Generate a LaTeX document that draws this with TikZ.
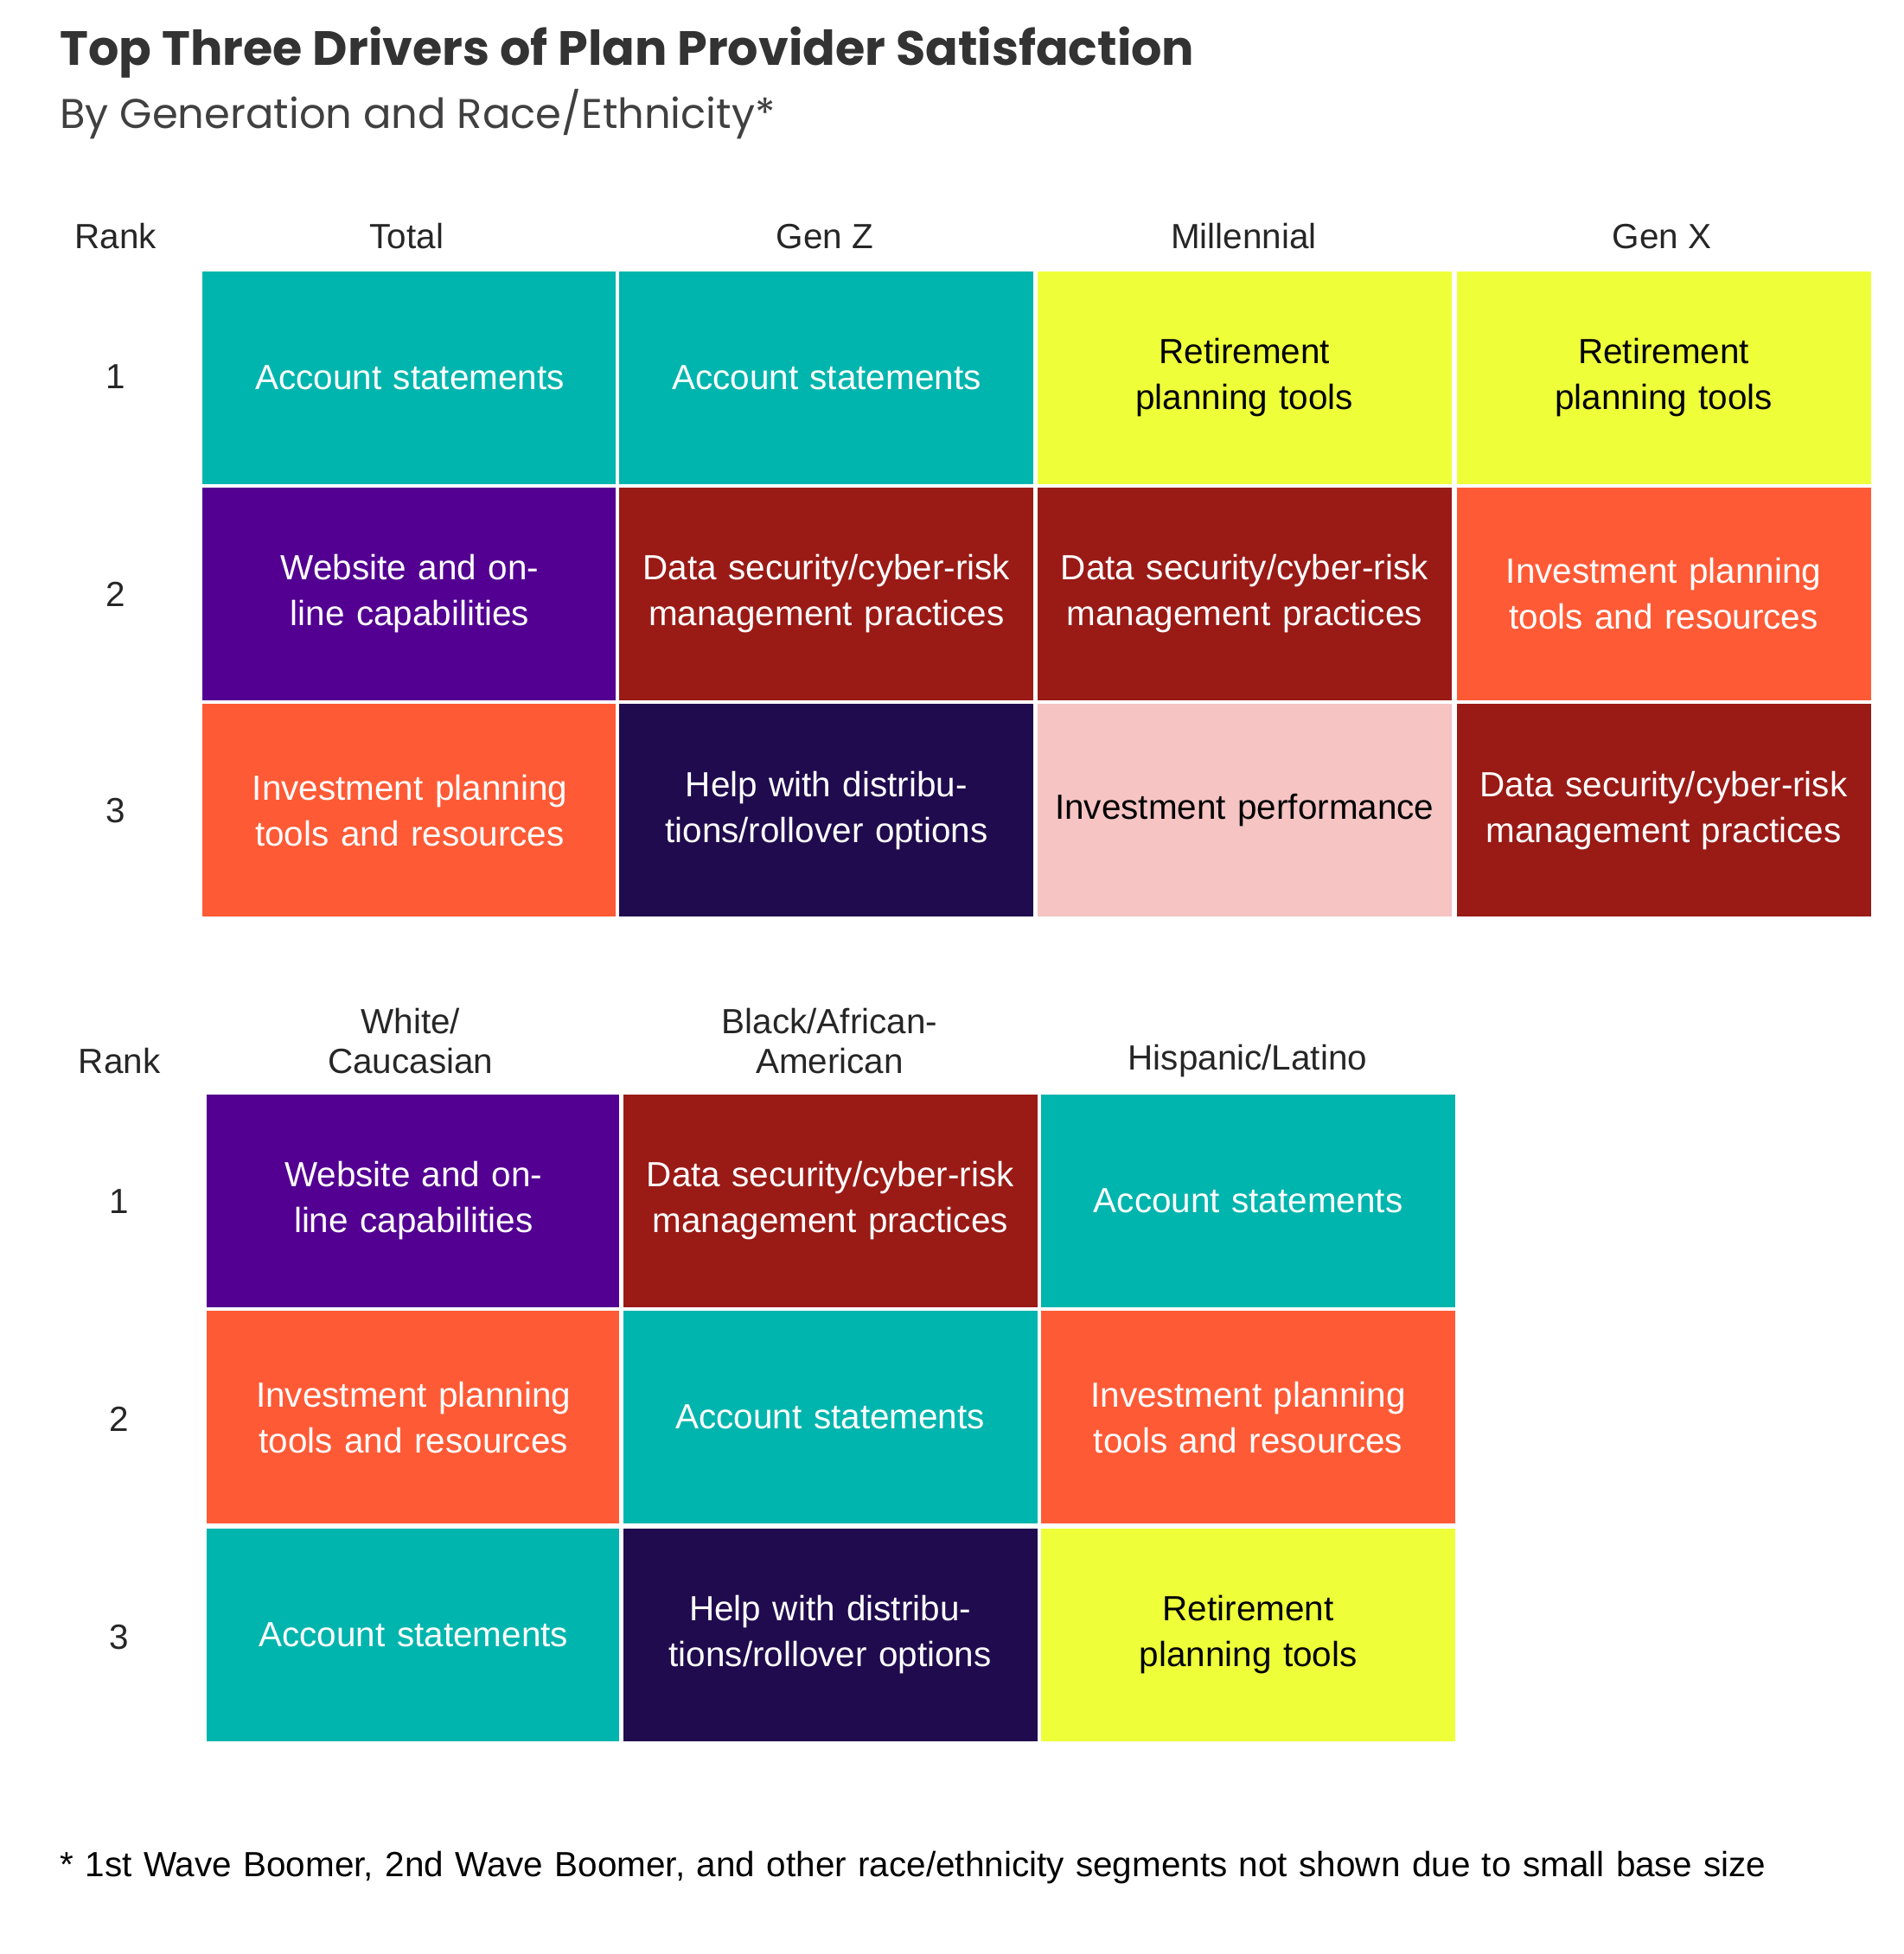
\documentclass[tikz,border=0pt]{standalone}
\usepackage{fontspec}
\setmainfont{Liberation Sans}
\newfontfamily\titlefont{Poppins}
\definecolor{cteal}{HTML}{00B5AD}
\definecolor{cyel}{HTML}{EEFF3A}
\definecolor{cpur}{HTML}{530092}
\definecolor{cred}{HTML}{9A1A16}
\definecolor{cora}{HTML}{FF5A36}
\definecolor{cnav}{HTML}{200B4E}
\definecolor{cpink}{HTML}{F5C4C3}
\tikzset{
 cell/.style={draw=white,line width=0.06cm,font=\fontsize{16}{21}\selectfont,align=center,text width=6.2cm,anchor=north west,inner sep=0pt,minimum width=6.72cm,minimum height=3.48cm},
 lw/.style={cell,text=white}, lb/.style={cell,text=black},
 hdr/.style={font=\fontsize{16}{18}\selectfont,align=center,text=black!85}
}
\begin{document}
\begin{tikzpicture}[x=0.02cm,y=-0.02cm]
\useasboundingbox (0,0) rectangle (1530,1571);
\node[anchor=west,font=\titlefont\bfseries\fontsize{22}{26}\selectfont,text=black!80,inner sep=0] (title) at (48,42) {Top Three Drivers of Plan Provider Satisfaction};
\node[anchor=west,font=\titlefont\fontsize{19}{22}\selectfont,text=black!75,inner sep=0] (sub) at (48,92) {By Generation and Race/Ethnicity*};
% top table headers
\node[hdr] (r0) at (93,190) {Rank};
\node[hdr] (hT) at (327,190) {Total};
\node[hdr] (hZ) at (663,190) {Gen Z};
\node[hdr] (hM) at (1000,190) {Millennial};
\node[hdr] (hX) at (1336,190) {Gen X};
\node[hdr] (r1) at (93,303) {1};
\node[hdr] (r2) at (93,478) {2};
\node[hdr] (r3) at (93,652) {3};
% row1
\node[lw,fill=cteal] (a11) at (160,215) {Account statements};
\node[lw,fill=cteal] (a12) at (495,215) {Account statements};
\node[lb,fill=cyel] (a13) at (831,215) {Retirement planning tools};
\node[lb,fill=cyel] (a14) at (1168,215) {Retirement planning tools};
\node[lw,fill=cpur] (a21) at (160,389) {Website and online capabilities};
\node[lw,fill=cred] (a22) at (495,389) {Data security/cyber-risk management practices};
\node[lw,fill=cred] (a23) at (831,389) {Data security/cyber-risk management practices};
\node[lw,fill=cora] (a24) at (1168,389) {Investment planning tools and resources};
\node[lw,fill=cora] (a31) at (160,563) {Investment planning tools and resources};
\node[lw,fill=cnav] (a32) at (495,563) {Help with distributions/rollover options};
\node[lb,fill=cpink] (a33) at (831,563) {Investment performance};
\node[lw,fill=cred] (a34) at (1168,563) {Data security/cyber-risk management practices};
% bottom table
\node[hdr] (s0) at (96,853) {Rank};
\node[hdr] (hW) at (330,837) {White/\\Caucasian};
\node[hdr] (hB) at (667,837) {Black/African-\\American};
\node[hdr] (hH) at (1003,853) {Hispanic/Latino};
\node[hdr] (s1) at (96,966) {1};
\node[hdr] (s2) at (96,1141) {2};
\node[hdr] (s3) at (96,1316) {3};
\node[lw,fill=cpur] (b11) at (163,877) {Website and online capabilities};
\node[lw,fill=cred] (b12) at (498,877) {Data security/cyber-risk management practices};
\node[lw,fill=cteal] (b13) at (834,877) {Account statements};
\node[lw,fill=cora] (b21) at (163,1051) {Investment planning tools and resources};
\node[lw,fill=cteal] (b22) at (498,1051) {Account statements};
\node[lw,fill=cora] (b23) at (834,1051) {Investment planning tools and resources};
\node[lw,fill=cteal] (b31) at (163,1226) {Account statements};
\node[lw,fill=cnav] (b32) at (498,1226) {Help with distributions/rollover options};
\node[lb,fill=cyel] (b33) at (834,1226) {Retirement planning tools};
\node[anchor=north west,align=left,inner sep=0,text width=28.6cm,font=\fontsize{16}{19.5}\selectfont] (fn) at (48,1488) {* 1st Wave Boomer, 2nd Wave Boomer, and other race/ethnicity segments not shown due to small base size};
\end{tikzpicture}
\end{document}
